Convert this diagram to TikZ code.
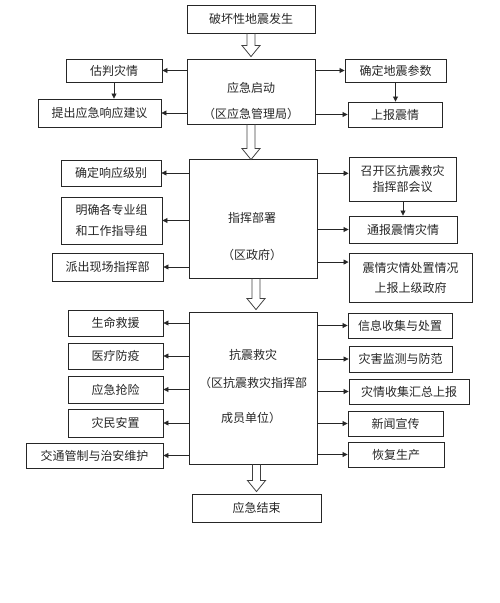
\documentclass[tikz,border=0pt]{standalone}
\usepackage{fontspec}
\newfontfamily\cjk{Noto Sans CJK SC}
\usetikzlibrary{arrows.meta,calc}

\begin{document}
\begin{tikzpicture}[x=1pt, y=-1pt,
    every node/.style={font=\cjk\fontsize{12}{16}\selectfont, text=black!85, inner sep=0pt},
    box/.style={draw=black!85, line width=0.9pt, align=center},
    arr/.style={draw=black!85, line width=0.8pt, -{Triangle[length=5pt,width=5pt]}},
    hollow/.style={draw=black!75, line width=0.8pt},
    bigarrow/.style={to path={let \p1=(\tikztostart), \p2=(\tikztotarget) in
        (\x1-4pt,\y1) -- (\x1-4pt,\y2+13pt) -- (\x1-9pt,\y2+13pt) -- (\x1,\y2+2pt)
        -- (\x1+9pt,\y2+13pt) -- (\x1+4pt,\y2+13pt) -- (\x1+4pt,\y1)}}]
    \useasboundingbox (0,0) rectangle (500,603);

    % Quake and start-up
    \node[box, minimum width=128, minimum height=28] (quake) at (251,19) {破坏性地震发生};
    \node (startA) at (251,88) {应急启动};
    \node (startB) at (251,114) {（区应急管理局）};
    \node[box, minimum width=128, minimum height=65] (start) at (251,91.5) {};
    \node[box, minimum width=96, minimum height=23] (assess) at (114,70.5) {估判灾情};
    \node[box, minimum width=123, minimum height=28] (propose) at (99.5,113) {提出应急响应建议};
    \node[box, minimum width=101, minimum height=23] (param) at (395.5,70.5) {确定地震参数};
    \node[box, minimum width=94, minimum height=25] (report) at (395,114.5) {上报震情};
    \draw[hollow] (quake.south) to[bigarrow] (start.north);
    \draw[arr] (start.west |- assess.east) -- (assess.east);
    \draw[arr] (start.west |- propose.east) -- (propose.east);
    \draw[arr] (start.east |- param.west) -- (param.west);
    \draw[arr] (start.east |- report.west) -- (report.west);
    \draw[arr] (assess.south) -- (assess.south |- propose.north);
    \draw[arr] (param.south) -- (param.south |- report.north);

    % Command (district government)
    \node (commandA) at (252,218) {指挥部署};
    \node (commandB) at (252,255) {（区政府）};
    \node[box, minimum width=128, minimum height=119] (command) at (253,218.5) {};
    \node[box, minimum width=100, minimum height=26] (level) at (111,173) {确定响应级别};
    \node[box, minimum width=101, minimum height=47] (groups) at (111.5,220.5) {明确各专业组\\[5pt]和工作指导组};
    \node[box, minimum width=111, minimum height=28] (site) at (107.5,267) {派出现场指挥部};
    \node[box, minimum width=107, minimum height=44] (meeting) at (402.5,179) {召开区抗震救灾\\指挥部会议};
    \node[box, minimum width=108, minimum height=27] (notify) at (403,229.5) {通报震情灾情};
    \node[box, minimum width=123, minimum height=49] (superior) at (410.5,277.5) {震情灾情处置情况\\[4pt]上报上级政府};
    \draw[hollow] (start.south) to[bigarrow] ([yshift=-3pt]command.north);
    \draw[arr] (command.west |- level.east) -- (level.east);
    \draw[arr] (command.west |- groups.east) -- (groups.east);
    \draw[arr] (command.west |- site.east) -- (site.east);
    \draw[arr] (command.east |- meeting.174) -- (meeting.174);
    \draw[arr] (command.east |- notify.west) -- (notify.west);
    \draw[arr] (command.east |- superior.166) -- (superior.166);
    \draw[arr] (meeting.south -| notify.north) -- (notify.north);

    % Relief work (member units)
    \node (rescueA) at (253,355) {抗震救灾};
    \node (rescueB) at (253,383) {（区抗震救灾指挥部};
    \node (rescueC) at (251,418) {成员单位）};
    \node[box, minimum width=128, minimum height=152] (rescue) at (253,388) {};
    \node[box, minimum width=95, minimum height=26] (life) at (115.5,323) {生命救援};
    \node[box, minimum width=95, minimum height=26] (medical) at (115.5,356) {医疗防疫};
    \node[box, minimum width=95, minimum height=27] (repair) at (115.5,389.5) {应急抢险};
    \node[box, minimum width=95, minimum height=28] (resettle) at (115.5,423) {灾民安置};
    \node[box, minimum width=137, minimum height=25] (traffic) at (94.5,455.5) {交通管制与治安维护};
    \node[box, minimum width=104, minimum height=25] (info) at (400,325.5) {信息收集与处置};
    \node[box, minimum width=103, minimum height=26] (monitor) at (400.5,359) {灾害监测与防范};
    \node[box, minimum width=120, minimum height=25] (summary) at (409,391.5) {灾情收集汇总上报};
    \node[box, minimum width=95, minimum height=25] (news) at (395.5,423.5) {新闻宣传};
    \node[box, minimum width=96, minimum height=25] (recover) at (396,454.5) {恢复生产};
    \coordinate (drop3) at ([xshift=3pt]command.south);
    \draw[hollow] (drop3) to[bigarrow] (rescue.north);
    \foreach \b in {life,medical,repair,resettle,traffic}
        \draw[arr] (rescue.west |- \b.east) -- (\b.east);
    \foreach \b in {info,monitor,summary,news,recover}
        \draw[arr] (rescue.east |- \b.west) -- (\b.west);

    % End
    \node[box, minimum width=129, minimum height=28] (finish) at (256.5,508) {应急结束};
    \coordinate (drop4) at (finish.north |- rescue.south);
    \draw[hollow] (drop4) to[bigarrow] (finish.north);
\end{tikzpicture}
\end{document}
